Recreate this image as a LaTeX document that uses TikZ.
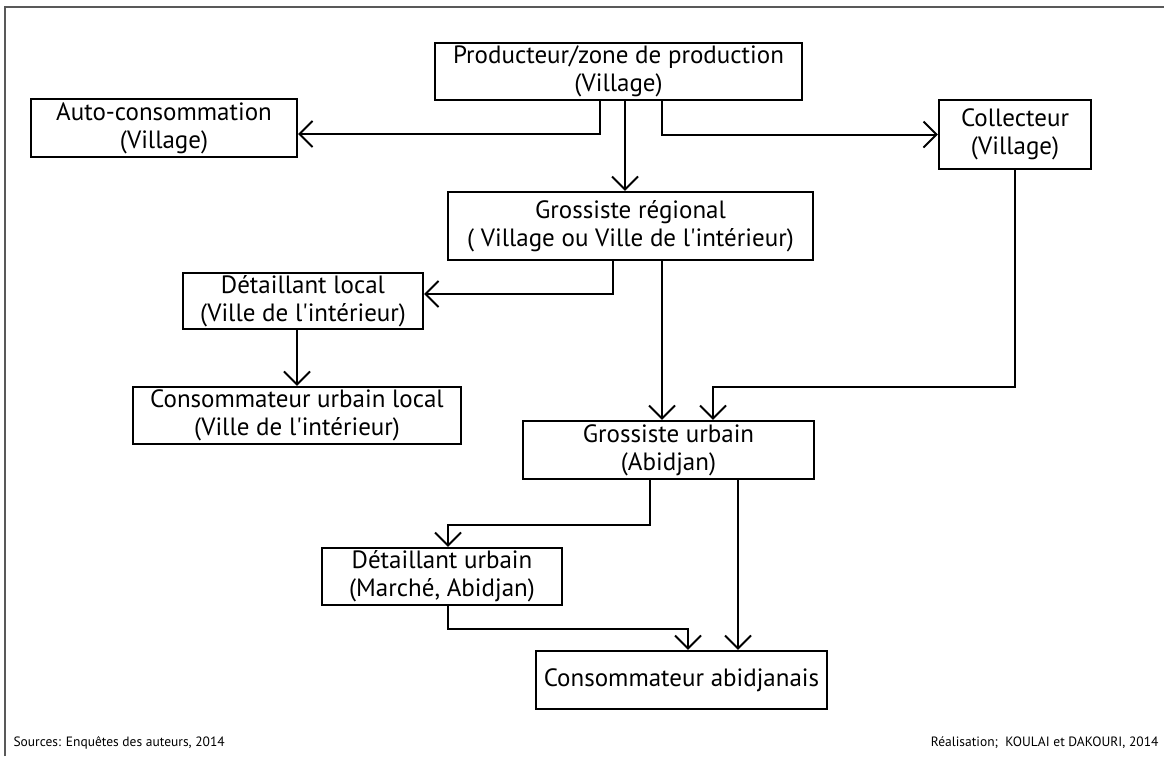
\documentclass[tikz,border=0pt]{standalone}
\usepackage{fontspec}
\setmainfont{PT Sans}
\usepackage{tikz}
\usetikzlibrary{arrows.meta}

\begin{document}
\begin{tikzpicture}[x=1pt, y=-1pt, every node/.style={font=\fontsize{25}{28}\selectfont}, box/.style={draw, line width=2.2pt, align=center, inner sep=0pt}, arrow/.style={-{Straight Barb[length=13pt, width=26pt]}, line width=2pt}, note/.style={font=\fontsize{13.5}{15}\selectfont}]
    \useasboundingbox (0,0) rectangle (1164,756);
    \draw[line width=1.5pt, black!65] (5,756) |- (1164,7);
    \node[box, minimum width=367pt, minimum height=57pt] (prod) at (618.5,71.5) {Producteur/zone de production\\(Village)};
    \node[box, minimum width=266pt, minimum height=58pt] (auto) at (164,128) {Auto-consommation\\(Village)};
    \node[box, minimum width=152pt, minimum height=69pt] (coll) at (1015,134.5) {Collecteur\\(Village)};
    \node[box, minimum width=365pt, minimum height=68pt] (greg) at (630.5,226) {Grossiste régional\\( Village ou Ville de l\textquotesingle intérieur)};
    \node[box, minimum width=240pt, minimum height=56pt] (dloc) at (303,301) {Détaillant local\\(Ville de l\textquotesingle intérieur)};
    \node[box, minimum width=328pt, minimum height=57pt] (cloc) at (297,415.5) {Consommateur urbain local\\(Ville de l\textquotesingle intérieur)};
    \node[box, minimum width=291pt, minimum height=58pt] (gurb) at (668.5,450) {Grossiste urbain\\(Abidjan)};
    \node[box, minimum width=240pt, minimum height=57pt] (durb) at (442,576.5) {Détaillant urbain\\(Marché, Abidjan)};
    \node[box, minimum width=291pt, minimum height=58pt] (cabj) at (681.5,680) {Consommateur abidjanais};
    \draw[arrow] ([xshift=-18.5pt]prod.south) |- ([yshift=-6pt]auto.east);
    \draw[arrow] ([xshift=6.5pt]prod.south) -- ([xshift=6.5pt]prod.south |- greg.north);
    \draw[arrow] ([xshift=43.5pt]prod.south) |- (coll.west);
    \draw[arrow] ([xshift=-17.5pt]greg.south) |- ([yshift=7pt]dloc.east);
    \draw[arrow] ([xshift=31.5pt]greg.south) -- ([xshift=31.5pt]greg.south |- gurb.north);
    \draw[arrow] (coll.south) -- ++(0,217) -| ([xshift=44.5pt]gurb.north);
    \draw[arrow] ([xshift=-6pt]dloc.south) -- (cloc.north);
    \draw[arrow] ([xshift=-18.5pt]gurb.south) -- ++(0,45) -| ([xshift=6pt]durb.north);
    \draw[arrow] ([xshift=69.5pt]gurb.south) -- ([xshift=69.5pt]gurb.south |- cabj.north);
    \draw[arrow] ([xshift=6pt]durb.south) -- ++(0,23) -| ([xshift=6.5pt]cabj.north);
    \node[note, anchor=base west] (src) at (10,746) {Sources: Enquêtes des auteurs, 2014};
    \node[note, anchor=base east] (real) at (1162,746) {Réalisation;\ \ KOULAI et DAKOURI, 2014};
\end{tikzpicture}
\end{document}
